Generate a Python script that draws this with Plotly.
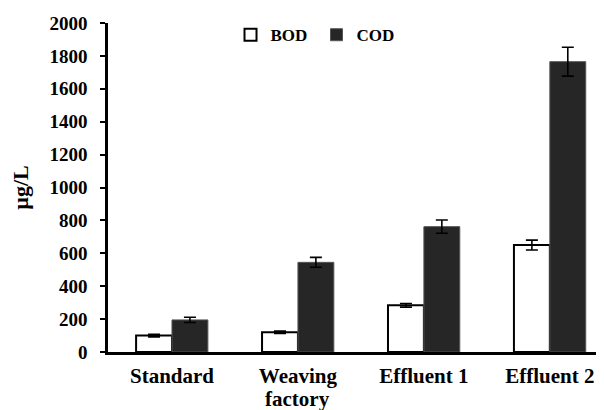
import plotly.graph_objects as go

categories = ["Standard", "Weaving", "Effluent 1", "Effluent 2"]
category_second_line = ["", "factory", "", ""]
bod_values = [100, 120, 284, 650]
bod_errors = [8, 7, 11, 30]
cod_values = [195, 545, 762, 1765]
cod_errors = [16, 30, 40, 88]
y_ticks = list(range(0, 2001, 200))

FONT = "Liberation Serif, Times New Roman, serif"
x_pos = list(range(len(categories)))

# the page body has an 8px margin, so the figure is drawn 8px in from the top-left
OFF = 8

fig = go.Figure()
fig.add_trace(go.Bar(
    name="<b>BOD</b>", x=x_pos, y=bod_values,
    marker=dict(color="white", line=dict(color="black", width=2)),
    error_y=dict(type="data", array=bod_errors, color="black", thickness=1.6, width=6),
))
fig.add_trace(go.Bar(
    name="<b>COD</b>", x=x_pos, y=cod_values,
    marker=dict(color="#262626", line=dict(color="#555555", width=1)),
    error_y=dict(type="data", array=cod_errors, color="black", thickness=1.6, width=6),
))

for xi, txt in zip(x_pos, category_second_line):
    if txt:
        fig.add_annotation(x=xi, xref="x", y=-0.142, yref="paper", yanchor="middle",
                           text="<b>%s</b>" % txt, showarrow=False,
                           font=dict(family=FONT, size=21, color="black"))

fig.update_layout(
    width=604 - OFF, height=410 - OFF,
    margin=dict(l=108 - OFF, r=0, t=23 - OFF, b=58 - OFF + 8),
    paper_bgcolor="white", plot_bgcolor="white",
    barmode="group", bargap=0.43, bargroupgap=0,
    font=dict(family=FONT, color="black"),
    showlegend=True,
    legend=dict(orientation="h", x=0.247, y=0.963, xanchor="left", yanchor="middle",
                font=dict(family=FONT, size=17, color="black"),
                itemwidth=30, entrywidth=41, bgcolor="rgba(0,0,0,0)"),
    xaxis=dict(
        tickmode="array", tickvals=x_pos,
        ticktext=["<b>%s</b>" % c for c in categories],
        range=[-0.508, 3.43], showline=True, linecolor="black", linewidth=2.5,
        ticks="", tickfont=dict(family=FONT, size=21, color="black"),
        ticklabelstandoff=3,
        showgrid=False, zeroline=False, automargin=False,
    ),
    yaxis=dict(
        range=[0, 2000], tickmode="array", tickvals=y_ticks,
        ticktext=["<b>%d</b>" % v for v in y_ticks],
        showline=True, linecolor="black", linewidth=2.5,
        ticks="outside", ticklen=5, tickwidth=2, tickcolor="black",
        tickfont=dict(family=FONT, size=19, color="black"),
        ticklabelstandoff=9,
        showgrid=False, zeroline=False, automargin=False,
        title=dict(text="<b>µg/L</b>", font=dict(family=FONT, size=22, color="black"), standoff=17),
    ),
)

fig.write_html("out.html")
